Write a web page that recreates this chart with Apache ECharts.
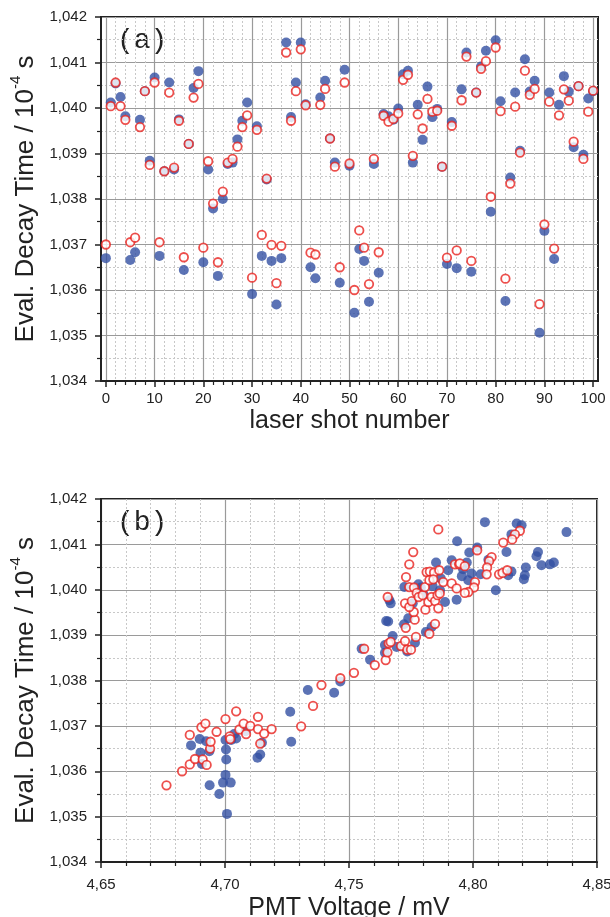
<!DOCTYPE html>
<html>
<head>
<meta charset="utf-8">
<script src="https://cdn.jsdelivr.net/npm/echarts@6/dist/echarts.min.js"></script>
<style>
  html, body { margin: 0; padding: 0; background: #fff; }
  #chart { width: 610px; height: 917px; }
</style>
</head>
<body>
<div id="chart"></div>
<script>
// (a) evaluated decay time per laser shot, index = shot number 0..100
const shotBlue = [
    1.03670, 1.04012, 1.04054, 1.04024, 1.03982, 1.03666, 1.03683, 1.03974, 1.04037, 1.03884,
    1.04067, 1.03675, 1.03861, 1.04056, 1.03865, 1.03975, 1.03644, 1.03921, 1.04044, 1.04081,
    1.03661, 1.03865, 1.03779, 1.03631, 1.03800, 1.03877, 1.03880, 1.03931, 1.03972, 1.04012,
    1.03591, 1.03960, 1.03675, 1.03843, 1.03664, 1.03568, 1.03670, 1.04144, 1.03980, 1.04056,
    1.04144, 1.04008, 1.03650, 1.03626, 1.04023, 1.04060, 1.03933, 1.03880, 1.03616, 1.04084,
    1.03873, 1.03550, 1.03690, 1.03664, 1.03574, 1.03877, 1.03638, 1.03987, 1.03982, 1.03974,
    1.03999, 1.04074, 1.04082, 1.03880, 1.04007, 1.03930, 1.04047, 1.03980, 1.03998, 1.03871,
    1.03657, 1.03969, 1.03648, 1.04041, 1.04122, 1.03640, 1.04034, 1.04091, 1.04126, 1.03772,
    1.04149, 1.04015, 1.03576, 1.03847, 1.04034, 1.03906, 1.04107, 1.04036, 1.04060, 1.03506,
    1.03730, 1.04034, 1.03668, 1.04007, 1.04070, 1.04036, 1.03914, 1.04048, 1.03897, 1.04021,
    1.04037
];
const shotRed = [
    1.03700, 1.04004, 1.04056, 1.04004, 1.03974, 1.03705, 1.03715, 1.03958, 1.04037, 1.03875,
    1.04056, 1.03705, 1.03861, 1.04034, 1.03869, 1.03972, 1.03672, 1.03921, 1.04023, 1.04053,
    1.03693, 1.03883, 1.03790, 1.03661, 1.03816, 1.03880, 1.03888, 1.03915, 1.03958, 1.03984,
    1.03627, 1.03952, 1.03721, 1.03845, 1.03699, 1.03615, 1.03697, 1.04122, 1.03972, 1.04037,
    1.04129, 1.04006, 1.03682, 1.03678, 1.04007, 1.04042, 1.03933, 1.03871, 1.03650, 1.04056,
    1.03878, 1.03600, 1.03731, 1.03693, 1.03613, 1.03888, 1.03683, 1.03983, 1.03970, 1.03976,
    1.03988, 1.04062, 1.04073, 1.03895, 1.03986, 1.03955, 1.04020, 1.03992, 1.03994, 1.03871,
    1.03671, 1.03961, 1.03687, 1.04017, 1.04113, 1.03664, 1.04034, 1.04086, 1.04103, 1.03805,
    1.04133, 1.03993, 1.03625, 1.03834, 1.04003, 1.03902, 1.04082, 1.04029, 1.04042, 1.03569,
    1.03744, 1.04014, 1.03691, 1.03984, 1.04041, 1.04016, 1.03926, 1.04048, 1.03888, 1.03992,
    1.04038
];
const shotTicks = [0, 10, 20, 30, 40, 50, 60, 70, 80, 90, 100];
const shotMinorTicks = [2, 4, 6, 8, 12, 14, 16, 18, 22, 24, 26, 28, 32, 34, 36, 38, 42, 44, 46, 48,
    52, 54, 56, 58, 62, 64, 66, 68, 72, 74, 76, 78, 82, 84, 86, 88, 92, 94, 96, 98];

// (b) decay time vs PMT voltage, [voltage, decay time]
const pmtBlue = [
    [4.6863, 1.03657], [4.6898, 1.03671], [4.6924, 1.03666], [4.6901, 1.03641], [4.6907, 1.03616],
    [4.6937, 1.03644], [4.6938, 1.03569], [4.6977, 1.03550], [4.7008, 1.03506], [4.6992, 1.03575],
    [4.7023, 1.03575], [4.7002, 1.03592], [4.7005, 1.03626], [4.7004, 1.03648], [4.7002, 1.03669],
    [4.7025, 1.03669], [4.7045, 1.03672], [4.7037, 1.03682], [4.7083, 1.03688], [4.7149, 1.03663],
    [4.7131, 1.03630], [4.7142, 1.03637], [4.7263, 1.03731], [4.7267, 1.03665], [4.7334, 1.03779],
    [4.7440, 1.03773], [4.7465, 1.03798], [4.7551, 1.03870], [4.7585, 1.03846], [4.7645, 1.03861],
    [4.7645, 1.03878], [4.7676, 1.03898], [4.7692, 1.03874], [4.7735, 1.03864], [4.7766, 1.03883],
    [4.7810, 1.03907], [4.7833, 1.03918], [4.7650, 1.03931], [4.7658, 1.03930], [4.7722, 1.03924],
    [4.7739, 1.03937], [4.7663, 1.03977], [4.7668, 1.03970], [4.7757, 1.03970], [4.7723, 1.04006],
    [4.7851, 1.04060], [4.7914, 1.04065], [4.7900, 1.04043], [4.7936, 1.04107], [4.7790, 1.04005],
    [4.7837, 1.04008], [4.7867, 1.03999], [4.7887, 1.03973], [4.7934, 1.03978], [4.8048, 1.04149],
    [4.8176, 1.04146], [4.8196, 1.04142], [4.8155, 1.04122], [4.8377, 1.04127], [4.8017, 1.04093],
    [4.7985, 1.04082], [4.8135, 1.04083], [4.8262, 1.04083], [4.8256, 1.04074], [4.8276, 1.04054],
    [4.8310, 1.04056], [4.8326, 1.04060], [4.8213, 1.04049], [4.8209, 1.04032], [4.8205, 1.04023],
    [4.8155, 1.04040], [4.8142, 1.04032], [4.8031, 1.04034], [4.7994, 1.04036], [4.7981, 1.04021],
    [4.8092, 1.03999], [4.8062, 1.04066], [4.7780, 1.04012], [4.7800, 1.03990], [4.7870, 1.04025],
    [4.7960, 1.04045], [4.7975, 1.04060], [4.7955, 1.04030]
];
const pmtRed = [
    [4.6764, 1.03569], [4.6827, 1.03600], [4.6858, 1.03615], [4.6879, 1.03627], [4.6910, 1.03626],
    [4.6926, 1.03614], [4.6940, 1.03650], [4.6942, 1.03665], [4.6858, 1.03680], [4.6905, 1.03697],
    [4.6921, 1.03705], [4.6966, 1.03687], [4.7002, 1.03715], [4.7019, 1.03677], [4.7021, 1.03671],
    [4.7045, 1.03732], [4.7058, 1.03692], [4.7075, 1.03705], [4.7085, 1.03682], [4.7102, 1.03700],
    [4.7133, 1.03720], [4.7133, 1.03693], [4.7158, 1.03683], [4.7188, 1.03693], [4.7142, 1.03661],
    [4.7307, 1.03699], [4.7355, 1.03744], [4.7389, 1.03790], [4.7465, 1.03805], [4.7520, 1.03817],
    [4.7604, 1.03834], [4.7561, 1.03870], [4.7648, 1.03845], [4.7655, 1.03862], [4.7660, 1.03882],
    [4.7668, 1.03885], [4.7710, 1.03876], [4.7726, 1.03887], [4.7735, 1.03868], [4.7750, 1.03868],
    [4.7770, 1.03896], [4.7824, 1.03903], [4.7847, 1.03925], [4.7729, 1.03916], [4.7765, 1.03934],
    [4.7761, 1.03951], [4.7656, 1.03984], [4.7726, 1.03970], [4.7743, 1.03962], [4.7753, 1.03975],
    [4.7743, 1.04006], [4.7730, 1.04028], [4.7743, 1.04056], [4.7759, 1.04083], [4.7762, 1.04005],
    [4.7773, 1.03993], [4.7781, 1.03984], [4.7797, 1.03988], [4.7806, 1.04006], [4.7808, 1.03956],
    [4.7813, 1.04039], [4.7826, 1.04040], [4.7843, 1.04038], [4.7864, 1.04043], [4.7824, 1.04021],
    [4.7840, 1.04023], [4.7820, 1.03973], [4.7833, 1.03984], [4.7847, 1.03975], [4.7857, 1.03988],
    [4.7860, 1.03959], [4.7866, 1.03992], [4.7880, 1.04017], [4.7914, 1.04014], [4.7934, 1.04003],
    [4.7927, 1.04056], [4.7944, 1.04056], [4.7860, 1.04133], [4.8189, 1.04130], [4.8169, 1.04122],
    [4.8158, 1.04111], [4.8122, 1.04104], [4.8017, 1.04087], [4.8075, 1.04072], [4.8065, 1.04063],
    [4.8057, 1.04049], [4.8055, 1.04034], [4.8105, 1.04034], [4.8119, 1.04037], [4.8138, 1.04043],
    [4.8008, 1.04017], [4.8004, 1.04005], [4.7981, 1.03995], [4.7967, 1.03993], [4.7947, 1.04058],
    [4.7967, 1.04052]
];

const BLUE = '#3350a2';
const RED = '#e8231f';
const FONT = 'Liberation Sans';

function commaFmt(digits) {
    return function (v) { return v.toFixed(digits).replace('.', ','); };
}

const labelStyle = { fontFamily: FONT, fontSize: 15, color: '#222' };
const majorSplit = { show: true, lineStyle: { color: '#9a9a9a', width: 1.2 } };
const minorSplit = { show: true, lineStyle: { color: '#c8c8c8', width: 1, type: [2, 2] } };
const axisLine = { show: true, onZero: false, lineStyle: { color: '#222', width: 2 } };

const yName = {
    name: '{a|Eval. Decay Time / 10}{s|-4}{a| s}',
    nameLocation: 'middle',
    nameGap: 60,
    nameTextStyle: {
        rich: {
            a: { fontFamily: FONT, fontSize: 26, color: '#222', lineHeight: 30, verticalAlign: 'bottom' },
            s: { fontFamily: FONT, fontSize: 15, color: '#222', lineHeight: 30, verticalAlign: 'top' }
        }
    }
};

function decayAxis(gridIndex) {
    return {
        type: 'value',
        gridIndex,
        min: 1.034,
        max: 1.042,
        interval: 0.001,
        ...yName,
        axisLine,
        axisTick: { show: true, length: 6, lineStyle: { color: '#222', width: 1.5 } },
        minorTick: { show: true, splitNumber: 2, length: 4, lineStyle: { color: '#222', width: 1.2 } },
        axisLabel: { ...labelStyle, margin: 14, formatter: commaFmt(3) },
        splitLine: majorSplit,
        minorSplitLine: minorSplit
    };
}

const chart = echarts.init(document.getElementById('chart'), null, { renderer: 'canvas' });

const option = {
    animation: false,
    backgroundColor: '#fff',
    grid: [
        { left: 101, top: 17, width: 497, height: 364, show: true, borderColor: '#222', borderWidth: 2, outerBoundsMode: 'none' },
        { left: 101, top: 17, width: 497, height: 364, show: false, outerBoundsMode: 'none' },
        { left: 101, top: 499, width: 496, height: 363, show: true, borderColor: '#222', borderWidth: 2, outerBoundsMode: 'none' }
    ],
    xAxis: [
        {
            type: 'value', gridIndex: 0, min: -1, max: 101,
            name: 'laser shot number', nameLocation: 'middle', nameGap: 28,
            nameTextStyle: { fontFamily: FONT, fontSize: 25, color: '#222' },
            axisLine,
            axisTick: { show: true, length: 6, customValues: shotTicks, lineStyle: { color: '#222', width: 1.5 } },
            axisLabel: { ...labelStyle, margin: 10, customValues: shotTicks },
            splitLine: majorSplit
        },
        {
            type: 'value', gridIndex: 1, min: -1, max: 101,
            axisLine: { show: false },
            axisTick: { show: true, length: 4, customValues: shotMinorTicks, lineStyle: { color: '#222', width: 1.2 } },
            axisLabel: { show: false },
            splitLine: minorSplit
        },
        {
            type: 'value', gridIndex: 2, min: 4.65, max: 4.85, interval: 0.05,
            name: 'PMT Voltage / mV', nameLocation: 'middle', nameGap: 34,
            nameTextStyle: { fontFamily: FONT, fontSize: 25, color: '#222' },
            axisLine,
            axisTick: { show: true, length: 6, lineStyle: { color: '#222', width: 1.5 } },
            minorTick: { show: true, splitNumber: 5, length: 4, lineStyle: { color: '#222', width: 1.2 } },
            axisLabel: { ...labelStyle, margin: 15, formatter: commaFmt(2) },
            splitLine: majorSplit,
            minorSplitLine: minorSplit
        }
    ],
    yAxis: [
        decayAxis(0),
        { type: 'value', gridIndex: 1, min: 1.034, max: 1.042, show: false },
        decayAxis(2)
    ],
    graphic: [
        { type: 'text', left: 117, top: 27, style: { text: '(a)', font: '28px "Liberation Mono"', fill: '#222' } },
        { type: 'text', left: 117, top: 509, style: { text: '(b)', font: '28px "Liberation Mono"', fill: '#222' } }
    ],
    series: [
        {
            type: 'scatter', xAxisIndex: 0, yAxisIndex: 0, symbolSize: 10,
            itemStyle: { color: BLUE },
            data: shotBlue.map((v, i) => [i, v])
        },
        {
            type: 'scatter', xAxisIndex: 0, yAxisIndex: 0, symbolSize: 8.5,
            itemStyle: { color: '#fff', borderColor: RED, borderWidth: 1.8 },
            data: shotRed.map((v, i) => [i, v])
        },
        {
            type: 'scatter', xAxisIndex: 2, yAxisIndex: 2, symbolSize: 10,
            itemStyle: { color: BLUE },
            data: pmtBlue
        },
        {
            type: 'scatter', xAxisIndex: 2, yAxisIndex: 2, symbolSize: 8.5,
            itemStyle: { color: '#fff', borderColor: RED, borderWidth: 1.8 },
            data: pmtRed
        }
    ]
};

chart.setOption(option);
</script>
</body>
</html>
